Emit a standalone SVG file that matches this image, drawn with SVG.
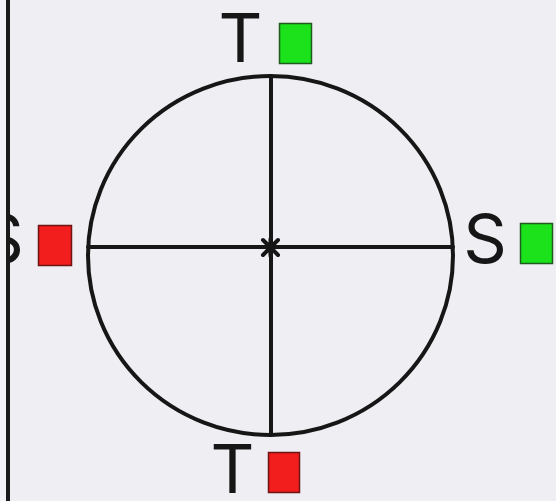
<svg xmlns="http://www.w3.org/2000/svg" width="556" height="501" viewBox="0 0 556 501">
<style>
.ln{stroke:#161616;stroke-width:4;fill:none;stroke-linecap:round}
.lbl{font-family:"Inter","Liberation Sans",sans-serif;font-weight:400;font-size:68px;fill:#161616;text-anchor:middle}
.g{fill:#1be21b;stroke:#1f5a1f;stroke-width:1.5}
.r{fill:#f21d1d;stroke:#6e1414;stroke-width:1.5}
</style>
<rect x="0" y="0" width="556" height="501" fill="#efeef3"/>
<g id="label-S-left"><text class="lbl" x="2" y="263">S</text></g>
<rect x="0" y="0" width="6" height="501" fill="#f3f2f6"/>
<g id="border"><line x1="8" y1="0" x2="8" y2="501" stroke="#1a1a1a" stroke-width="4"/></g>
<g id="circle"><ellipse class="ln" cx="270.5" cy="255.5" rx="182.5" ry="179.5"/></g>
<g id="connectors">
<line class="ln" x1="271" y1="76" x2="271" y2="435"/>
<line class="ln" x1="88" y1="247" x2="453" y2="247"/>
</g>
<g id="center"><path class="ln" stroke-width="4.5" d="M263 240 L278 255 M278 240 L263 255 M270.5 239 L270.5 256"/></g>
<g id="top"><text class="lbl" x="240.5" y="62">T</text><rect class="g" x="279.5" y="23.5" width="32" height="40"/></g>
<g id="right"><text class="lbl" x="485" y="263">S</text><rect class="g" x="520.5" y="223.5" width="32" height="40"/></g>
<g id="left"><rect class="r" x="38.5" y="225.5" width="33" height="40"/></g>
<g id="bottom"><text class="lbl" x="232.5" y="493">T</text><rect class="r" x="268.5" y="452.5" width="31" height="40"/></g>
</svg>
